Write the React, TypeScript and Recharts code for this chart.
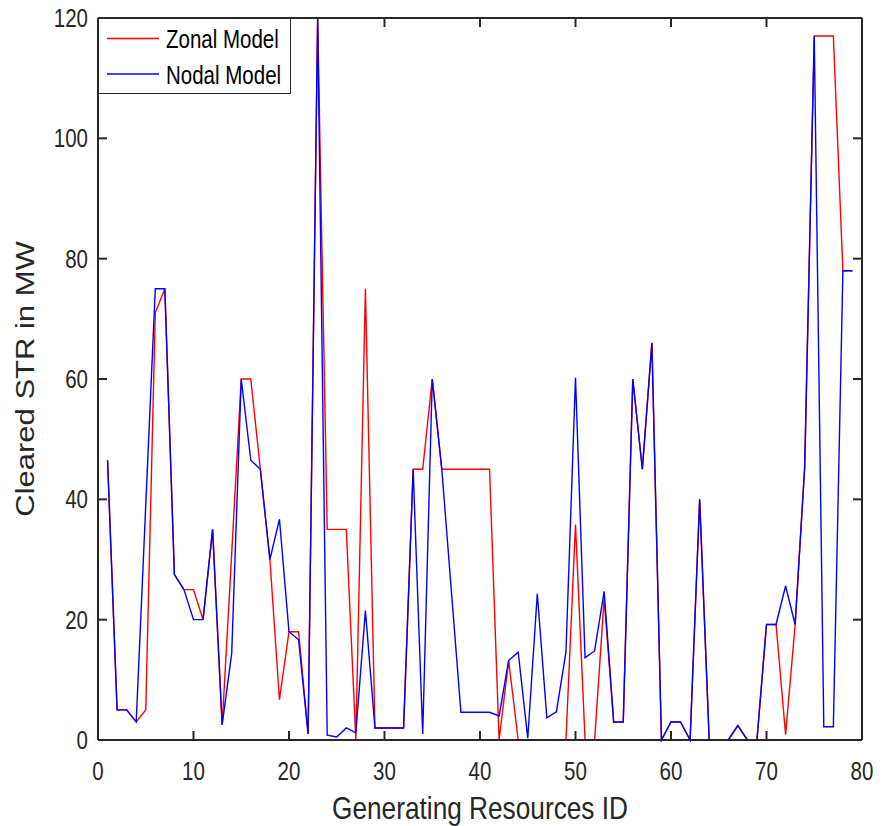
import React from "react";
import { Legend, Line, LineChart, XAxis, YAxis } from "recharts";

// Generating resource IDs and cleared short-term reserve (MW)
const resourceIds = [
  1, 2, 3, 4, 5, 6, 7, 8, 9, 10, 11, 12, 13, 14, 15, 16, 17, 18, 19, 20,
  21, 22, 23, 24, 25, 26, 27, 28, 29, 30, 31, 32, 33, 34, 35, 36, 37, 38, 39, 40,
  41, 42, 43, 44, 45, 46, 47, 48, 49, 50, 51, 52, 53, 54, 55, 56, 57, 58, 59, 60,
  61, 62, 63, 64, 65, 66, 67, 68, 69, 70, 71, 72, 73, 74, 75, 76, 77, 78, 79,
];

const zonalMW = [
  46.5, 5, 5, 3, 5, 71, 75, 27.5, 25, 25, 20, 35, 2.5, 31, 60, 60, 45, 30, 6.7, 18,
  18, 1, 120, 35, 35, 35, 0, 75, 2, 2, 2, 2, 45, 45, 60, 45, 45, 45, 45, 45,
  45, 0, 13.2, 0, 0, 0, 0, 0, 0, 35.8, 0, 0, 23.5, 3, 3, 60, 45, 66, 0, 3,
  3, 0, 40, 0, 0, 0, 2.4, 0, 0, 19.2, 19.2, 0.9, 19.2, 45.4, 117, 117, 117, 78, 78,
];

const nodalMW = [
  46.5, 5, 5, 3, 39, 75, 75, 27.5, 25, 20, 20, 35, 2.5, 14.4, 60, 46.5, 45, 30, 36.7, 18,
  16.7, 1, 120, 0.8, 0.5, 2, 1.2, 21.5, 2, 2, 2, 2, 45, 1, 60, 45, 24.8, 4.6, 4.6, 4.6,
  4.6, 4, 13.2, 14.6, 0.3, 24.3, 3.7, 4.7, 14.6, 60.2, 13.7, 14.8, 24.7, 3, 3, 60, 45, 66, 0, 3,
  3, 0, 40, 0, 0, 0, 2.4, 0, 0, 19.2, 19.2, 25.6, 19.2, 45.4, 117, 2.2, 2.2, 78, 78,
];

const seriesNames = ["Zonal Model", "Nodal Model"];
const seriesColors = ["#ff0000", "#0000ff"];
const xTicks = [0, 10, 20, 30, 40, 50, 60, 70, 80];
const yTicks = [0, 20, 40, 60, 80, 100, 120];

const data = resourceIds.map((id, i) => ({
  id,
  zonal: zonalMW[i],
  nodal: nodalMW[i],
}));

const AXIS = "#262626";
const SANS = '"Liberation Sans", Arial, sans-serif';
// the reference text is horizontally condensed
const SQUEEZE = 0.82;
const TICK_LEN = 9; // inward, MATLAB style
const X_LABEL_GAP = 22;
const Y_LABEL_GAP = 10;

function InwardMark({ x1, y1, x2, y2 }: any) {
  return <line x1={x1} y1={y1} x2={x2} y2={y2} stroke={AXIS} strokeWidth={2} />;
}

// bottom axis: label plus inward mark (axis line sits X_LABEL_GAP above label)
function XTick({ x, y, payload, index, visibleTicksCount }: any) {
  const axisY = y - X_LABEL_GAP;
  const edge = index === 0 || index === visibleTicksCount - 1;
  return (
    <g>
      {!edge && <InwardMark x1={x} x2={x} y1={axisY} y2={axisY - TICK_LEN} />}
      <g transform={`translate(${x}, ${y})`}>
        <text
          transform={`scale(${SQUEEZE}, 1)`}
          textAnchor="middle"
          dy="0.71em"
          fill={AXIS}
          fontSize={25}
          fontFamily={SANS}
        >
          {payload.value}
        </text>
      </g>
    </g>
  );
}

function YTick({ x, y, payload, index, visibleTicksCount }: any) {
  const axisX = x + Y_LABEL_GAP;
  const edge = index === 0 || index === visibleTicksCount - 1;
  return (
    <g>
      {!edge && <InwardMark x1={axisX} x2={axisX + TICK_LEN} y1={y} y2={y} />}
      <g transform={`translate(${x}, ${y})`}>
        <text
          transform={`scale(${SQUEEZE}, 1)`}
          textAnchor="end"
          dy="0.36em"
          fill={AXIS}
          fontSize={25}
          fontFamily={SANS}
        >
          {payload.value}
        </text>
      </g>
    </g>
  );
}

function TopTick({ x, y, index, visibleTicksCount }: any) {
  if (index === 0 || index === visibleTicksCount - 1) return <g />;
  return <InwardMark x1={x} x2={x} y1={y} y2={y + TICK_LEN} />;
}

function RightTick({ x, y, index, visibleTicksCount }: any) {
  if (index === 0 || index === visibleTicksCount - 1) return <g />;
  return <InwardMark x1={x} x2={x - TICK_LEN} y1={y} y2={y} />;
}

function XTitle(props: any) {
  const vb = props.viewBox ?? { x: 98, y: 740, width: 764, height: 86 };
  return (
    <g transform={`translate(${vb.x + vb.width / 2}, ${vb.y + 79})`}>
      <text
        transform={`scale(${SQUEEZE}, 1)`}
        textAnchor="middle"
        fill={AXIS}
        fontSize={32}
        fontFamily={SANS}
      >
        Generating Resources ID
      </text>
    </g>
  );
}

function YTitle(props: any) {
  const vb = props.viewBox ?? { x: 0, y: 18, width: 98, height: 722 };
  const cx = vb.x + 34;
  const cy = vb.y + vb.height / 2;
  return (
    <text
      transform={`translate(${cx}, ${cy}) scale(${SQUEEZE}, 1) rotate(-90)`}
      x={0}
      y={0}
      textAnchor="middle"
      fill={AXIS}
      fontSize={31}
      fontFamily={SANS}
    >
      Cleared STR in MW
    </text>
  );
}

function LegendBox() {
  return (
    <div
      style={{
        position: "relative",
        width: 193,
        height: 76,
        boxSizing: "border-box",
        border: `1px solid ${AXIS}`,
        background: "#fff",
      }}
    >
      <svg width={191} height={74} style={{ position: "absolute", left: 0, top: 0 }}>
        {seriesNames.map((name, i) => {
          const cy = 19.5 + i * 35.5;
          return (
            <line
              key={name}
              x1={8}
              x2={60}
              y1={cy}
              y2={cy}
              stroke={seriesColors[i]}
              strokeWidth={1.4}
            />
          );
        })}
      </svg>
      {seriesNames.map((name, i) => {
        const cy = 20.5 + i * 35.5;
        return (
          <div
            key={name}
            style={{
              position: "absolute",
              left: 67,
              top: cy - 12.5,
              fontSize: 25,
              lineHeight: "25px",
              fontFamily: SANS,
              color: "#000",
              whiteSpace: "nowrap",
              transform: `scaleX(${SQUEEZE})`,
              transformOrigin: "0 0",
            }}
          >
            {name}
          </div>
        );
      })}
    </div>
  );
}

const axisLine = { stroke: AXIS, strokeWidth: 2 };

export default function App() {
  return (
    <div style={{ width: 889, height: 826, background: "#fff" }}>
      <style>{"body{margin:0}"}</style>
      <LineChart
        width={889}
        height={826}
        data={data}
        margin={{ top: 17, right: 26, bottom: 0, left: 0 }}
      >
        <XAxis
          dataKey="id"
          type="number"
          domain={[0, 80]}
          ticks={xTicks}
          interval={0}
          height={86}
          tickSize={0}
          tickMargin={X_LABEL_GAP}
          tick={<XTick />}
          axisLine={axisLine}
          tickLine={false}
          label={(p: any) => <XTitle {...p} />}
        />
        <XAxis
          xAxisId="top"
          orientation="top"
          dataKey="id"
          type="number"
          domain={[0, 80]}
          ticks={xTicks}
          interval={0}
          height={1}
          tickSize={0}
          tickMargin={0}
          tick={<TopTick />}
          axisLine={axisLine}
          tickLine={false}
        />
        <YAxis
          type="number"
          domain={[0, 120]}
          ticks={yTicks}
          interval={0}
          width={98}
          tickSize={0}
          tickMargin={Y_LABEL_GAP}
          tick={<YTick />}
          axisLine={axisLine}
          tickLine={false}
          label={(p: any) => <YTitle {...p} />}
        />
        <YAxis
          yAxisId="right"
          orientation="right"
          type="number"
          domain={[0, 120]}
          ticks={yTicks}
          interval={0}
          width={1}
          tickSize={0}
          tickMargin={0}
          tick={<RightTick />}
          axisLine={axisLine}
          tickLine={false}
        />
        <Legend
          layout="vertical"
          align="center"
          verticalAlign="middle"
          wrapperStyle={{ top: 18, left: 98, width: 193, height: 76 }}
          content={() => <LegendBox />}
        />
        <Line
          type="linear"
          dataKey="zonal"
          name={seriesNames[0]}
          stroke={seriesColors[0]}
          strokeWidth={1.4}
          dot={false}
          activeDot={false}
          isAnimationActive={false}
        />
        <Line
          type="linear"
          dataKey="nodal"
          name={seriesNames[1]}
          xAxisId="top"
          yAxisId="right"
          stroke={seriesColors[1]}
          strokeWidth={1.4}
          dot={false}
          activeDot={false}
          isAnimationActive={false}
        />
      </LineChart>
    </div>
  );
}
